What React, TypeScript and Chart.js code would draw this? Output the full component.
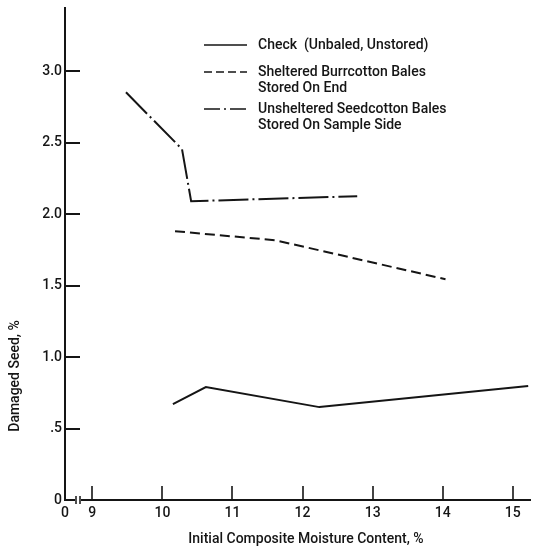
import React, { useEffect, useRef } from "react";
import { Chart, registerables } from "chart.js";

Chart.register(...registerables);

// ---- Data ----
const CHECK_X = [10.15, 10.62, 12.24, 15.22];
const CHECK_Y = [0.671, 0.79, 0.65, 0.797];

const SHELTERED_X = [10.18, 11.61, 14.04];
const SHELTERED_Y = [1.881, 1.818, 1.545];

const UNSHELTERED_X = [9.48, 10.28, 10.41, 12.78];
const UNSHELTERED_Y = [2.853, 2.455, 2.091, 2.126];

const X_MIN = 8.61;
const X_MAX = 15.26;
const Y_MIN = 0;
const Y_MAX = 3.45;

const X_TICKS = [8.61, 9, 10, 11, 12, 13, 14, 15];
const X_TICK_LABELS = ["0", "9", "10", "11", "12", "13", "14", "15"];
const Y_TICKS = [0, 0.5, 1.0, 1.5, 2.0, 2.5, 3.0];
const Y_TICK_LABELS = ["0", ".5", "1.0", "1.5", "2.0", "2.5", "3.0"];

const X_TITLE = "Initial Composite Moisture Content, %";
const Y_TITLE = "Damaged Seed, %";

const LEGEND_LINES: string[][] = [
  ["Check  (Unbaled, Unstored)"],
  ["Sheltered Burrcotton Bales", "Stored On End"],
  ["Unsheltered Seedcotton Bales", "Stored On Sample Side"],
];

const INK = "#151515";
const FONT = "Roboto";
const DASHED = [10, 5];
const DASH_DOT = [30, 4, 2, 4];
const DASHES = [[], DASHED, DASH_DOT];

const toPoints = (xs: number[], ys: number[]) => xs.map((x, i) => ({ x, y: ys[i] }));

const decorPlugin = {
  id: "decor",
  afterDraw(chart: any) {
    const { ctx, chartArea, scales } = chart;
    const xs = scales.x;
    const ys = scales.y;
    const left = chartArea.left;
    const bottom = chartArea.bottom;
    const top = chartArea.top;
    const right = chartArea.right;
    ctx.save();
    ctx.strokeStyle = INK;
    ctx.fillStyle = INK;
    ctx.lineCap = "butt";
    ctx.setLineDash([]);

    // y axis
    ctx.lineWidth = 2;
    ctx.beginPath();
    ctx.moveTo(left, top);
    ctx.lineTo(left, bottom + 1);
    ctx.stroke();

    // y ticks (inward)
    Y_TICKS.forEach((v) => {
      if (v === 0) return;
      const y = Math.round(ys.getPixelForValue(v));
      ctx.beginPath();
      ctx.moveTo(left, y);
      ctx.lineTo(left + 15, y);
      ctx.stroke();
    });

    // x axis with break
    ctx.beginPath();
    ctx.moveTo(left - 1, bottom);
    ctx.lineTo(left + 10, bottom);
    ctx.moveTo(left + 16, bottom);
    ctx.lineTo(right, bottom);
    ctx.stroke();
    ctx.lineWidth = 1.5;
    ctx.beginPath();
    ctx.moveTo(left + 11, bottom - 4);
    ctx.lineTo(left + 11, bottom + 4);
    ctx.moveTo(left + 15, bottom - 4);
    ctx.lineTo(left + 15, bottom + 4);
    ctx.stroke();

    // x ticks (inward)
    ctx.lineWidth = 1.6;
    X_TICKS.forEach((v, i) => {
      if (i === 0) return;
      const x = Math.round(xs.getPixelForValue(v));
      ctx.beginPath();
      ctx.moveTo(x, bottom);
      ctx.lineTo(x, bottom - 14);
      ctx.stroke();
    });

    // axis titles
    ctx.font = `500 14px ${FONT}`;
    ctx.textBaseline = "middle";
    ctx.textAlign = "center";
    ctx.fillText(X_TITLE, 306, 539);
    ctx.save();
    ctx.translate(15, 376);
    ctx.rotate(-Math.PI / 2);
    ctx.fillText(Y_TITLE, 0, 0);
    ctx.restore();

    // legend
    ctx.textAlign = "left";
    const rows = [45, 72, 109];
    LEGEND_LINES.forEach((lines, i) => {
      const y = rows[i];
      ctx.lineWidth = 1.6;
      ctx.setLineDash(i === 1 ? [8, 4] : i === 2 ? [16, 4, 2, 4] : []);
      ctx.beginPath();
      ctx.moveTo(204, y);
      ctx.lineTo(247, y);
      ctx.stroke();
      ctx.setLineDash([]);
      lines.forEach((t, j) => {
        ctx.fillText(t, 258, y + j * 16);
      });
    });
    ctx.restore();
  },
};

export default function App() {
  const ref = useRef<HTMLCanvasElement>(null);

  useEffect(() => {
    if (!ref.current) return;
    const series = [
      toPoints(CHECK_X, CHECK_Y),
      toPoints(SHELTERED_X, SHELTERED_Y),
      toPoints(UNSHELTERED_X, UNSHELTERED_Y),
    ];
    const chart = new Chart(ref.current, {
      type: "line",
      data: {
        datasets: series.map((data, i) => ({
          label: LEGEND_LINES[i].join(" "),
          data,
          borderColor: INK,
          borderWidth: 2,
          borderDash: DASHES[i],
          pointRadius: 0,
          tension: 0,
          fill: false,
        })),
      },
      options: {
        animation: false,
        responsive: false,
        layout: { padding: { top: 7, right: 2, left: 0, bottom: 0 } },
        plugins: { legend: { display: false }, tooltip: { enabled: false } },
        scales: {
          x: {
            type: "linear",
            min: X_MIN,
            max: X_MAX,
            grid: { display: false, drawTicks: false },
            border: { display: false },
            afterBuildTicks: (s: any) => {
              s.ticks = X_TICKS.map((value) => ({ value }));
            },
            afterFit: (s: any) => {
              s.height = 50;
              s.paddingLeft = 0;
              s.paddingRight = 0;
            },
            ticks: {
              autoSkip: false,
              maxRotation: 0,
              padding: 5,
              color: INK,
              font: { family: FONT, size: 14, weight: "500" },
              callback: (v: any) => {
                const i = X_TICKS.indexOf(Number(v));
                return i >= 0 ? X_TICK_LABELS[i] : "";
              },
            },
          },
          y: {
            type: "linear",
            min: Y_MIN,
            max: Y_MAX,
            grid: { display: false, drawTicks: false },
            border: { display: false },
            afterBuildTicks: (s: any) => {
              s.ticks = Y_TICKS.map((value) => ({ value }));
            },
            afterFit: (s: any) => {
              s.width = 65;
              s.paddingTop = 0;
              s.paddingBottom = 0;
            },
            ticks: {
              autoSkip: false,
              padding: 3,
              color: INK,
              font: { family: FONT, size: 14, weight: "500" },
              callback: (v: any) => {
                const i = Y_TICKS.indexOf(Number(v));
                return i >= 0 ? Y_TICK_LABELS[i] : "";
              },
            },
          },
        },
      },
      plugins: [decorPlugin],
    });
    return () => chart.destroy();
  }, []);

  return (
    <div style={{ position: "absolute", left: 0, top: 0, width: 533, height: 550, background: "#fff" }}>
      <canvas ref={ref} width={533} height={550} style={{ display: "block" }} />
    </div>
  );
}
